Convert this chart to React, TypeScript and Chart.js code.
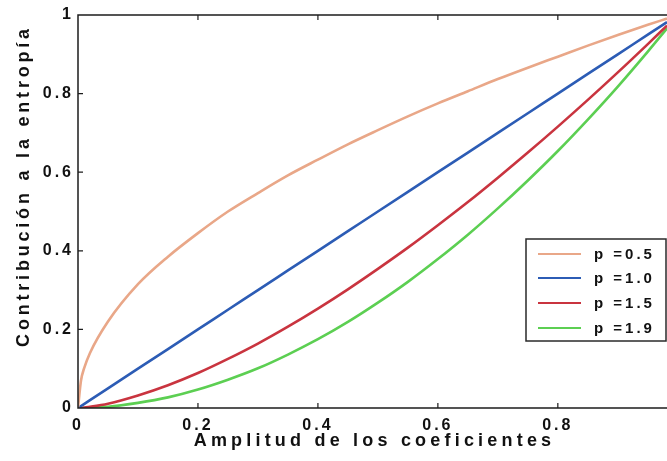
import React, { useEffect, useRef } from "react";
import { Chart, registerables } from "chart.js";

Chart.register(...registerables);

// Coefficient amplitude (x) and the entropy contribution read for each exponent p
const amplitude = [0, 0.005, 0.01, 0.02, 0.05, 0.1, 0.15, 0.2, 0.25, 0.3, 0.35, 0.4, 0.45, 0.5, 0.55, 0.6, 0.65, 0.7, 0.75, 0.8, 0.85, 0.9, 0.95, 0.982];
const p05 = [0, 0.07, 0.1, 0.14, 0.22, 0.315, 0.385, 0.445, 0.5, 0.547, 0.592, 0.632, 0.671, 0.707, 0.742, 0.775, 0.806, 0.837, 0.866, 0.894, 0.922, 0.949, 0.975, 0.991];
const p10 = [0, 0.005, 0.01, 0.02, 0.05, 0.1, 0.15, 0.2, 0.25, 0.3, 0.35, 0.4, 0.45, 0.5, 0.55, 0.6, 0.65, 0.7, 0.75, 0.8, 0.85, 0.9, 0.95, 0.982];
const p15 = [0, 0, 0.001, 0.003, 0.011, 0.032, 0.058, 0.089, 0.125, 0.164, 0.207, 0.253, 0.302, 0.354, 0.408, 0.465, 0.524, 0.586, 0.65, 0.716, 0.784, 0.854, 0.926, 0.973];
const p19 = [0, 0, 0, 0.001, 0.003, 0.013, 0.027, 0.047, 0.072, 0.101, 0.136, 0.175, 0.219, 0.268, 0.321, 0.379, 0.441, 0.508, 0.579, 0.654, 0.734, 0.818, 0.907, 0.966];

const seriesLabels = ["p =0.5", "p =1.0", "p =1.5", "p =1.9"];
const seriesColors = ["#e9a788", "#2c5cb5", "#c9343f", "#5ccf52"];

const xTicks = [0, 0.2, 0.4, 0.6, 0.8];
const yTicks = [0, 0.2, 0.4, 0.6, 0.8, 1];

const xTitle = "Amplitud de los coeficientes";
const yTitle = "Contribución a la entropía";

const FONT = "'Liberation Sans', Arial, sans-serif";
const INK = "#111111";

const toPoints = (ys: number[]) => amplitude.map((x, i) => ({ x, y: ys[i] }));

// Letter-spaced bold lettering, as in the printed figure
const spacing = {
  id: "spacing",
  beforeLayout(chart: any) {
    chart.ctx.letterSpacing = "3px";
  },
  beforeDraw(chart: any) {
    const { ctx, width, height } = chart;
    ctx.letterSpacing = "3px";
    ctx.save();
    ctx.fillStyle = "#ffffff";
    ctx.fillRect(0, 0, width, height);
    ctx.restore();
  },
};

// Axis frame, inward tick marks, axis titles and the boxed legend
const decorations = {
  id: "decorations",
  afterDraw(chart: any) {
    const { ctx, chartArea } = chart;
    const { left, right, top, bottom } = chartArea;
    const xs = chart.scales.x;
    const ys = chart.scales.y;
    ctx.save();
    ctx.strokeStyle = "#1c1c1c";
    ctx.lineWidth = 1.5;
    ctx.beginPath();
    ctx.moveTo(right + 2, top);
    ctx.lineTo(left, top);
    ctx.lineTo(left, bottom);
    ctx.lineTo(right + 2, bottom);
    ctx.stroke();

    ctx.lineWidth = 1.2;
    ctx.beginPath();
    xTicks.forEach((v) => {
      if (v === 0) return;
      const px = xs.getPixelForValue(v);
      ctx.moveTo(px, bottom);
      ctx.lineTo(px, bottom - 5);
      ctx.moveTo(px, top);
      ctx.lineTo(px, top + 5);
    });
    yTicks.forEach((v) => {
      if (v === 0 || v === 1) return;
      const py = ys.getPixelForValue(v);
      ctx.moveTo(left, py);
      ctx.lineTo(left + 5, py);
    });
    ctx.stroke();

    // axis titles
    ctx.fillStyle = INK;
    ctx.font = `bold 18px ${FONT}`;
    ctx.letterSpacing = "4.2px";
    ctx.textAlign = "center";
    ctx.textBaseline = "middle";
    ctx.fillText(xTitle, (left + right) / 2 + 2, 441);
    ctx.save();
    ctx.translate(24, 188);
    ctx.rotate(-Math.PI / 2);
    ctx.letterSpacing = "3.8px";
    ctx.fillText(yTitle, 2, 0);
    ctx.restore();

    // legend
    const bx = 526, by = 239, bw = 140, bh = 102;
    ctx.fillStyle = "#ffffff";
    ctx.fillRect(bx, by, bw, bh);
    ctx.strokeStyle = "#2a2a2a";
    ctx.lineWidth = 1.5;
    ctx.strokeRect(bx, by, bw, bh);
    const rows = [254, 278, 303, 328];
    ctx.font = `bold 15px ${FONT}`;
    ctx.letterSpacing = "3px";
    ctx.textAlign = "left";
    ctx.textBaseline = "middle";
    chart.data.datasets.forEach((ds: any, i: number) => {
      ctx.strokeStyle = ds.borderColor;
      ctx.lineWidth = 2.2;
      ctx.beginPath();
      ctx.moveTo(538, rows[i]);
      ctx.lineTo(581, rows[i]);
      ctx.stroke();
      ctx.fillStyle = INK;
      ctx.fillText(ds.label, 594, rows[i] + 1);
    });
    ctx.restore();
  },
};

export default function App() {
  const canvasRef = useRef<HTMLCanvasElement | null>(null);

  useEffect(() => {
    if (!canvasRef.current) return;
    const chart = new Chart(canvasRef.current, {
      type: "line",
      data: {
        datasets: [p05, p10, p15, p19].map((ys, i) => ({
          label: seriesLabels[i],
          data: toPoints(ys),
          borderColor: seriesColors[i],
          backgroundColor: seriesColors[i],
          borderWidth: 2.6,
          pointRadius: 0,
          cubicInterpolationMode: "monotone" as const,
          fill: false,
        })),
      },
      options: {
        responsive: false,
        animation: false,
        layout: { padding: { top: 15, right: 0, left: 0, bottom: 0 } },
        plugins: {
          legend: { display: false },
          tooltip: { enabled: false },
        },
        scales: {
          x: {
            type: "linear",
            min: 0,
            max: 0.982,
            border: { display: false },
            grid: { display: false, drawTicks: false },
            afterFit: (scale: any) => {
              scale.height = 53;
            },
            afterBuildTicks: (scale: any) => {
              scale.ticks = xTicks.map((v) => ({ value: v }));
            },
            ticks: {
              padding: 8,
              color: INK,
              font: { family: FONT, size: 16, weight: "bold" },
              maxRotation: 0,
              callback: (v: any) => String(v),
            },
          },
          y: {
            type: "linear",
            min: 0,
            max: 1,
            border: { display: false },
            grid: { display: false, drawTicks: false },
            afterFit: (scale: any) => {
              scale.width = 78;
            },
            afterBuildTicks: (scale: any) => {
              scale.ticks = yTicks.map((v) => ({ value: v }));
            },
            ticks: {
              padding: 4,
              color: INK,
              font: { family: FONT, size: 16, weight: "bold" },
              callback: (v: any) => String(v),
            },
          },
        },
      },
      plugins: [spacing, decorations],
    });
    return () => chart.destroy();
  }, []);

  return (
    <div style={{ position: "fixed", left: 0, top: 0, width: 667, height: 461, background: "#fff" }}>
      <canvas ref={canvasRef} width={667} height={461} style={{ display: "block" }} />
    </div>
  );
}
